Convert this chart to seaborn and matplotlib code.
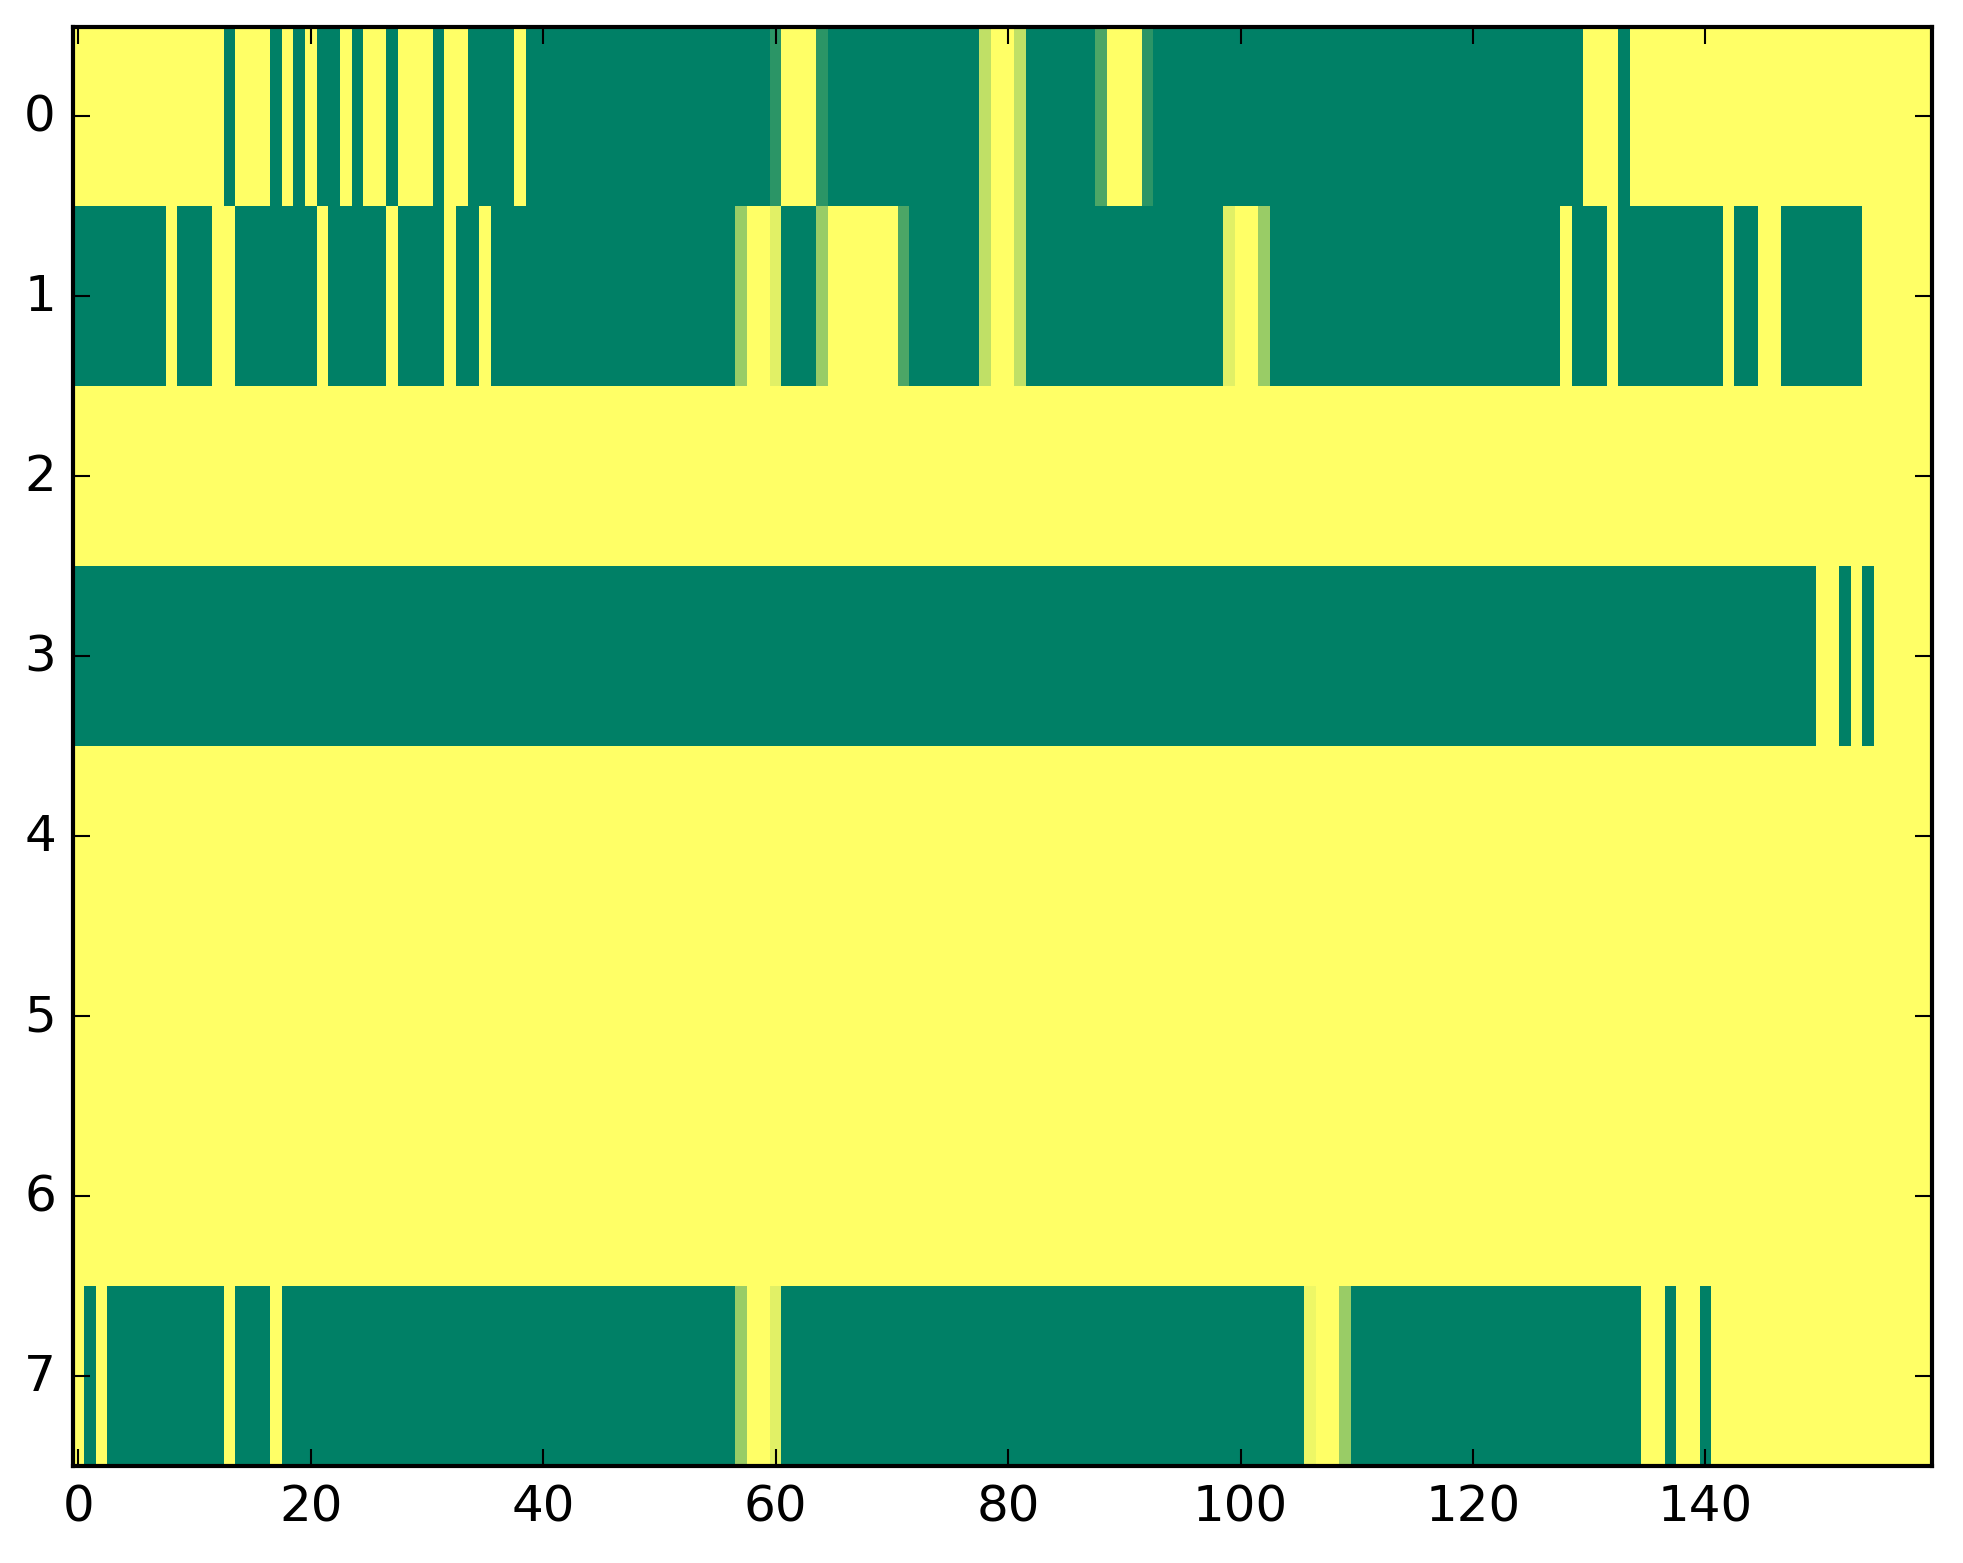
import numpy as np
import pandas as pd
import matplotlib
matplotlib.use("Agg")
import matplotlib.pyplot as plt
import seaborn as sns

# Each row is given as runs of (value, number_of_columns); 160 columns per row.
row0_runs = [(1, 13), (0, 1), (1, 3), (0, 1), (1, 1), (0, 1), (1, 1), (0, 2), (1, 1), (0, 1),
             (1, 2), (0, 1), (1, 3), (0, 1), (1, 2), (0, 4), (1, 1), (0, 21), (0.17, 1), (1, 3),
             (0.17, 1), (0, 13), (0.75, 1), (1, 2), (0.75, 1), (0, 6), (0.3, 1), (1, 3), (0.17, 1),
             (0, 37), (1, 3), (0, 1), (1, 26)]
row1_runs = [(0, 8), (1, 1), (0, 3), (1, 2), (0, 7), (1, 1), (0, 5), (1, 1), (0, 4), (1, 1),
             (0, 2), (1, 1), (0, 21), (0.6, 1), (1, 2), (0.88, 1), (0, 3), (0.6, 1), (1, 6),
             (0.3, 1), (0, 6), (0.75, 1), (1, 2), (0.75, 1), (0, 17), (0.88, 1), (1, 2), (0.6, 1),
             (0, 25), (1, 1), (0, 3), (1, 1), (0, 9), (1, 1), (0, 2), (1, 2), (0, 7), (1, 6)]
row2_runs = [(1, 160)]
row3_runs = [(0, 150), (1, 2), (0, 1), (1, 1), (0, 1), (1, 5)]
row4_runs = [(1, 160)]
row5_runs = [(1, 160)]
row6_runs = [(1, 160)]
row7_runs = [(1, 1), (0, 1), (1, 1), (0, 10), (1, 1), (0, 3), (1, 1), (0, 39), (0.6, 1), (1, 2),
             (0.88, 1), (0, 45), (0.93, 1), (1, 2), (0.6, 1), (0, 25), (1, 2), (0, 1), (1, 2),
             (0, 1), (1, 19)]

row_labels = [0, 1, 2, 3, 4, 5, 6, 7]
x_tick_values = [0, 20, 40, 60, 80, 100, 120, 140]


def expand(runs):
    out = []
    for v, n in runs:
        out.extend([v] * n)
    return out


rows = [row0_runs, row1_runs, row2_runs, row3_runs, row4_runs, row5_runs, row6_runs, row7_runs]
data = pd.DataFrame([expand(r) for r in rows], index=row_labels)

plt.style.use("classic")
plt.rcParams["font.family"] = ["DejaVu Sans"]

W, H = 1963, 1564
fig = plt.figure(figsize=(W / 300, H / 300), dpi=300)
left, right, top, bottom = 72.6, 1932.0, 27.5, 1467.0
ax = fig.add_axes([left / W, (H - bottom) / H, (right - left) / W, (bottom - top) / H])

sns.heatmap(data, cmap="summer", vmin=0, vmax=1, cbar=False, ax=ax,
            xticklabels=False, yticklabels=False, linewidths=0)

ax.set_xticks(np.array(x_tick_values) + 0.5)
ax.set_xticklabels([str(v) for v in x_tick_values], rotation=0)
ax.set_yticks(np.array(row_labels) + 0.5)
ax.set_yticklabels([str(v) for v in row_labels], rotation=0)
ax.set_xlim(0, data.shape[1])
ax.set_ylim(data.shape[0], 0)
ax.set_xlabel("")
ax.set_ylabel("")

for s in ax.spines.values():
    s.set_visible(True)
    s.set_color("black")
    s.set_linewidth(1.0)

ax.tick_params(axis="both", which="major", direction="in", top=True, right=True,
               bottom=True, left=True, length=4, width=0.5, labelsize=12, pad=4,
               colors="black")

fig.savefig("out.png", dpi=300)
